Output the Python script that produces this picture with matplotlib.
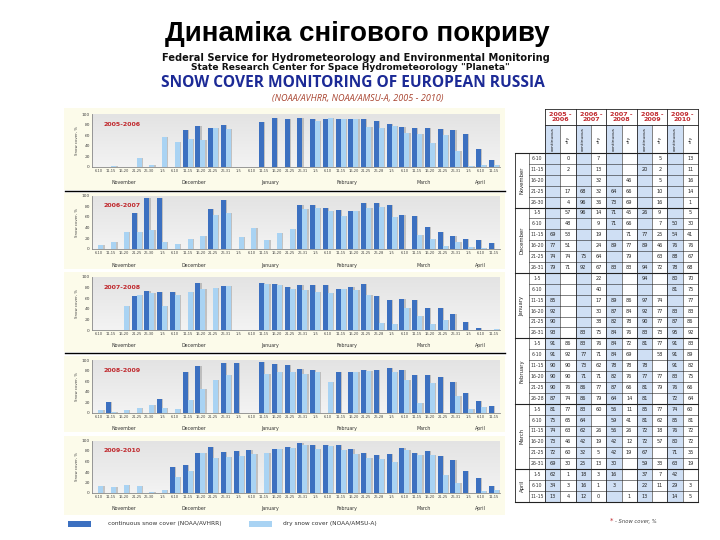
import numpy as np
import matplotlib
matplotlib.use('Agg')
import matplotlib.pyplot as plt
from matplotlib.patches import Rectangle
from matplotlib.lines import Line2D
from matplotlib.transforms import blended_transform_factory
from matplotlib.colors import LinearSegmentedColormap

N = np.nan

pentads = ["6-10", "11-15", "16-20", "21-25", "26-30",
           "1-5", "6-10", "11-15", "16-20", "21-25", "26-31",
           "1-5", "6-10", "11-15", "16-20", "21-25", "26-31",
           "1-5", "6-10", "11-15", "16-20", "21-25", "26-28",
           "1-5", "6-10", "11-15", "16-20", "21-25", "26-31",
           "1-5", "6-10", "11-15"]
months = ["November", "December", "January", "February", "March", "April"]
month_sizes = [5, 6, 6, 6, 6, 3]
seasons = ["2005-2006", "2006-2007", "2007-2008", "2008-2009", "2009-2010"]

cont_2005_2006 = [N, N, N, N, N, N, N, 69, 77, 74, 79, N, N, 85, 92, 90, 93,
                  91, 91, 90, 90, 90, 87, 81, 75, 74, 73, 72, 69, 62, 34, 13]
dry_2005_2006 = [0, 2, N, 17, 4, 57, 48, 53, 51, 74, 71, N, N, N, N, N, N,
                 86, 92, 90, 90, 76, 74, 77, 65, 63, 46, 60, 30, 1, 3, 4]

cont_2006_2007 = [N, N, N, 68, 96, 96, N, N, N, 75, 92, N, N, N, N, N, 83,
                  83, 77, 73, 71, 86, 86, 83, 64, 62, 42, 32, 25, 18, 16, 12]
dry_2006_2007 = [7, 13, 32, 32, 36, 14, 9, 19, 24, 64, 67, 22, 40, 17, 30, 38, 75,
                 76, 71, 62, 71, 77, 79, 60, N, 26, 19, 5, 13, 3, 1, 0]

cont_2007_2008 = [N, N, N, 64, 73, 71, 71, N, 89, N, 83, N, N, 89, 87, 82, 84,
                  84, 84, 78, 82, 87, 64, 56, 59, 56, 42, 42, 30, 16, 3, N]
dry_2007_2008 = [N, N, 46, 66, 69, 45, 66, 71, 77, 79, 83, N, N, 86, 84, 78, 76,
                 72, 69, 78, 76, 66, 14, 11, 41, 26, 12, 19, N, N, N, 1]

cont_2008_2009 = [N, 20, N, N, N, 26, N, 77, 89, N, 94, 94, N, 97, 92, 90, 83,
                  81, N, 78, 77, 81, 81, 85, 81, 72, 72, 67, 59, 37, 22, 13]
dry_2008_2009 = [5, 2, 5, 10, 16, 9, 7, 25, 46, 63, 72, N, N, 74, 77, 77, 73,
                 77, 58, N, 77, 79, N, 77, 62, 18, 57, N, 33, 7, 11, N]

cont_2009_2010 = [N, N, N, N, N, N, 50, 54, 76, 88, 78, 80, 81, N, 83, 87, 95,
                  91, 91, 91, 83, 76, 72, 74, 85, 76, 80, 71, 63, 42, 29, 14]
dry_2009_2010 = [13, 11, 16, 14, 1, 5, 30, 41, 76, 67, 68, 70, 75, 77, 83, 86, 92,
                 83, 89, 82, 75, 66, 64, 60, 81, 72, 72, 35, 19, N, 3, 5]

cont_series = [cont_2005_2006, cont_2006_2007, cont_2007_2008, cont_2008_2009, cont_2009_2010]
dry_series = [dry_2005_2006, dry_2006_2007, dry_2007_2008, dry_2008_2009, dry_2009_2010]

DARK = '#3c70c0'
LIGHT = '#a9d3f3'
RED = '#c0282d'

W, H = 720, 540
fig = plt.figure(figsize=(7.2, 5.4), dpi=100)
fig.patch.set_facecolor('white')


def fx(x):
    return x / W


def fy(y):
    return 1 - y / H


# ---- headings
fig.text(fx(357), fy(41), "Динаміка снігового покриву", ha='center', va='baseline',
         fontsize=20, fontweight='bold', family='Liberation Sans', color='black')
fig.text(fx(356), fy(58), "Federal Service for Hydrometeorology and Environmental Monitoring",
         ha='center', va='center', fontsize=7.1, fontweight='bold', family='DejaVu Sans', color='#111111')
fig.text(fx(350), fy(68), 'State Research Center for Space Hydrometeorology "Planeta"',
         ha='center', va='center', fontsize=6.6, fontweight='bold', family='DejaVu Sans', color='#111111')
fig.text(fx(353), fy(83), "SNOW COVER MONITORING OF EUROPEAN RUSSIA", ha='center', va='center',
         fontsize=11.2, fontweight='bold', family='Open Sans', color='#1c2a96')
fig.text(fx(358), fy(98.5), "(NOAA/AVHRR, NOAA/AMSU-A, 2005 - 2010)", ha='center', va='center',
         fontsize=6.5, style='italic', family='Open Sans', color='#a8432f')

# ---- chart panels
panel_rows = [(114, 167), (195.5, 249), (277, 330), (360, 413), (440.5, 493)]
panel_bg = [(108, 190), (193, 269), (272, 352), (356, 432), (436, 515)]
PX0, PX1 = 92, 500

grad = np.linspace(0, 1, 64).reshape(-1, 1)
gcmap = LinearSegmentedColormap.from_list('g', ['#f3f3f3', '#e3e3e3'])

for k in range(5):
    t, b = panel_bg[k]
    fig.patches.append(Rectangle((fx(64), fy(b)), fx(505) - fx(64), fy(t) - fy(b),
                                 transform=fig.transFigure, facecolor='#fcfbea', edgecolor='none', zorder=-5))
    top, zero = panel_rows[k]
    ax = fig.add_axes([fx(PX0), fy(zero), fx(PX1) - fx(PX0), fy(top) - fy(zero)], zorder=2)
    ax.patch.set_alpha(0)
    ax.imshow(grad, extent=[-0.5, 31.5, 0, 100], aspect='auto', cmap=gcmap, origin='lower', zorder=0)
    x = np.arange(len(pentads))
    c = np.nan_to_num(np.array(cont_series[k], dtype=float))
    d = np.nan_to_num(np.array(dry_series[k], dtype=float))
    bw = 0.4
    ax.bar(x - 0.2 + 0.1, c, width=bw, color='#8c8c8c', alpha=0.45, zorder=2, linewidth=0)
    ax.bar(x - 0.2, c, width=bw, color=DARK, zorder=3, linewidth=0)
    ax.bar(x + 0.2 + 0.1, d, width=bw, color='#8c8c8c', alpha=0.45, zorder=4, linewidth=0)
    ax.bar(x + 0.2, d, width=bw, color=LIGHT, zorder=5, linewidth=0)
    ax.set_xlim(-0.5, 31.5)
    ax.set_ylim(0, 100)
    ax.set_yticks([0, 20, 40, 60, 80, 100])
    ax.set_yticklabels(['0', '20', '40', '60', '80', '100'], fontsize=3.2, color='#444444')
    ax.set_xticks(x)
    ax.set_xticklabels(pentads, fontsize=2.6, color='#444444')
    ax.tick_params(axis='both', length=0, pad=1.5)
    for s in ['top', 'right']:
        ax.spines[s].set_visible(False)
    ax.spines['left'].set_color('#888888')
    ax.spines['bottom'].set_color('#888888')
    ax.spines['left'].set_linewidth(0.6)
    ax.spines['bottom'].set_linewidth(0.6)
    ax.set_ylabel("Snow cover, %", fontsize=2.8, color='#444444', labelpad=2)
    ax.text(0.028, 0.81, seasons[k], transform=ax.transAxes, fontsize=4.5, fontweight='bold',
            color=RED, ha='left', va='center', zorder=6)
    tr = blended_transform_factory(ax.transData, ax.transAxes)
    start = 0
    for m, n in zip(months, month_sizes):
        ax.text(start + (n - 1) / 2, -0.3, m, transform=tr, fontsize=3.4, color='#333333',
                ha='center', va='center')
        start += n

for yl in (191, 353):
    fig.lines.append(Line2D([fx(65), fx(505)], [fy(yl), fy(yl)], transform=fig.transFigure,
                            color='black', linewidth=1.0, zorder=5))

# ---- legend
fig.patches.append(Rectangle((fx(68), fy(527)), fx(91) - fx(68), fy(520.5) - fy(527),
                             transform=fig.transFigure, facecolor=DARK, edgecolor='none'))
fig.text(fx(108), fy(524), "continuous snow cover (NOAA/AVHRR)", fontsize=4.2, color='#333333',
         ha='left', va='center')
fig.patches.append(Rectangle((fx(249), fy(527)), fx(272) - fx(249), fy(520.5) - fy(527),
                             transform=fig.transFigure, facecolor=LIGHT, edgecolor='none'))
fig.text(fx(283), fy(524), "dry snow cover (NOAA/AMSU-A)", fontsize=4.2, color='#333333',
         ha='left', va='center')

# ---- table (same data)
X0, X1, Y0, Y1 = 510, 705, 104, 512
tab = fig.add_axes([fx(X0), fy(Y1), fx(X1) - fx(X0), fy(Y0) - fy(Y1)])
tab.set_xlim(X0, X1)
tab.set_ylim(Y1, Y0)
tab.axis('off')
x_month, x_pent, x_val0, cw = 515, 529, 545, 15.3
y_year, y_sub, y_row0, rh = 109, 125, 153, 10.9
nrows = len(pentads)
y_end = y_row0 + nrows * rh
x_end = x_val0 + 10 * cw
lc = '#222222'

for s in range(5):
    xs = x_val0 + 2 * s * cw
    tab.add_patch(Rectangle((xs, y_sub), cw, y_end - y_sub, facecolor='#cfdff4', edgecolor='none', zorder=0))
    y1, y2 = seasons[s].split('-')
    tab.text(xs + cw, (y_year + y_sub) / 2, f"{y1} -\n{y2}", fontsize=4.6, fontweight='bold',
             color=RED, ha='center', va='center', linespacing=1.0)
    for j, lab in enumerate(["continuous", "dry"]):
        tab.text(xs + (j + 0.5) * cw, (y_sub + y_row0) / 2, lab, rotation=90, fontsize=3.2,
                 color='#222222', ha='center', va='center')

for r in range(nrows):
    yc = y_row0 + (r + 0.5) * rh
    tab.text((x_pent + x_val0) / 2, yc, pentads[r], fontsize=3.3, color='#333333', ha='center', va='center')
    for s in range(5):
        for j, ser in enumerate([cont_series[s], dry_series[s]]):
            v = ser[r]
            if not np.isnan(v):
                tab.text(x_val0 + (2 * s + j + 0.5) * cw, yc, f"{int(v)}", fontsize=3.6,
                         color='#222222', ha='center', va='center')

boundaries = np.cumsum([0] + month_sizes)
for r in range(nrows + 1):
    yy = y_row0 + r * rh
    if r in boundaries:
        tab.plot([x_month, x_end], [yy, yy], color=lc, linewidth=0.8)
    else:
        tab.plot([x_pent, x_end], [yy, yy], color=lc, linewidth=0.4)
for yy in (y_year, y_sub):
    tab.plot([x_val0, x_end], [yy, yy], color=lc, linewidth=0.6)

tab.plot([x_month, x_month], [y_row0, y_end], color=lc, linewidth=0.6)
tab.plot([x_pent, x_pent], [y_row0, y_end], color=lc, linewidth=0.4)
for cidx in range(11):
    xx = x_val0 + cidx * cw
    if cidx % 2 == 0:
        tab.plot([xx, xx], [y_year, y_end], color=lc, linewidth=0.6)
    else:
        tab.plot([xx, xx], [y_sub, y_end], color=lc, linewidth=0.4)

for i, m in enumerate(months):
    ya = y_row0 + boundaries[i] * rh
    yb = y_row0 + boundaries[i + 1] * rh
    tab.text((x_month + x_pent) / 2, (ya + yb) / 2, m, rotation=90, fontsize=3.8,
             color='#222222', ha='center', va='center')

fig.text(fx(613), fy(521), "*", fontsize=5, color=RED, ha='right', va='center')
fig.text(fx(615), fy(521), "- Snow cover, %", fontsize=3.8, style='italic', color='#444444',
         ha='left', va='center')

fig.savefig('out.png', dpi=100)
